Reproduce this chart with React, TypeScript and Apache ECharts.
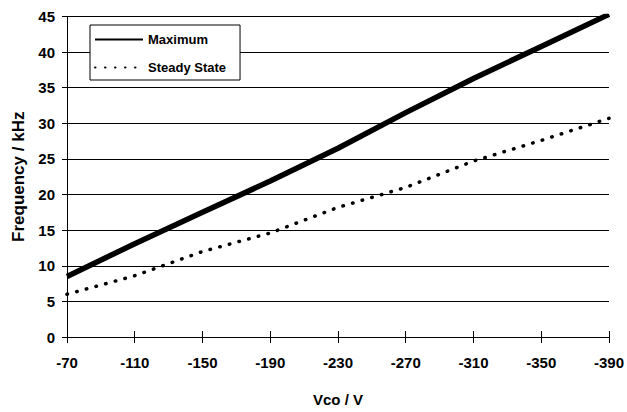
import React, { useEffect, useRef } from "react";
import * as echarts from "echarts";

const voltageLabels = ["-70", "-110", "-150", "-190", "-230", "-270", "-310", "-350", "-390"];
const maximumFreq = [8.5, 13.1, 17.5, 21.9, 26.5, 31.5, 36.3, 40.8, 45.3];
const steadyStateFreq = [6.0, 8.6, 12.0, 14.6, 18.2, 21.0, 24.7, 27.6, 30.7];
const seriesNames = ["Maximum", "Steady State"];

const FONT = 'Arial, "Liberation Sans", sans-serif';

export default function App() {
  const ref = useRef<HTMLDivElement>(null);
  useEffect(() => {
    if (!ref.current) return;
    const chart = echarts.init(ref.current, undefined, { renderer: "svg" });
    chart.setOption({
      animation: false,
      backgroundColor: "#fff",
      grid: { left: 67, right: 15, top: 16.5, bottom: 72, containLabel: false },
      legend: {
        data: seriesNames,
        orient: "vertical",
        left: 90,
        top: 25,
        itemWidth: 48,
        itemHeight: 14,
        itemGap: 15,
        padding: [8, 14, 6, 4],
        borderColor: "#000",
        borderWidth: 1,
        backgroundColor: "#fff",
        itemStyle: { opacity: 0, color: "rgba(0,0,0,0)", borderWidth: 0 },
        textStyle: { fontFamily: FONT, fontSize: 13, fontWeight: "bold", color: "#000" },
      },
      xAxis: [
        {
          type: "category",
          data: voltageLabels,
          boundaryGap: false,
          position: "bottom",
          axisLine: { show: true, lineStyle: { color: "#000", width: 1 } },
          axisTick: { show: true, inside: false, length: 6, interval: 0, lineStyle: { color: "#000" } },
          axisLabel: { margin: 18, interval: 0, fontFamily: FONT, fontSize: 15, fontWeight: "bold", color: "#000" },
          splitLine: { show: false },
          name: "Vco / V",
          nameLocation: "middle",
          nameGap: 55,
          nameTextStyle: { fontFamily: FONT, fontSize: 15, fontWeight: "bold", color: "#000" },
        },
        {
          type: "category",
          data: voltageLabels,
          boundaryGap: false,
          position: "bottom",
          axisLine: { show: false },
          axisTick: { show: true, inside: true, length: 6, interval: 0, lineStyle: { color: "#000" } },
          axisLabel: { show: false },
          splitLine: { show: false },
        },
      ],
      yAxis: {
        type: "value",
        min: 0,
        max: 45,
        interval: 5,
        axisLine: { show: true, lineStyle: { color: "#000", width: 1 } },
        axisTick: { show: true, length: 5, lineStyle: { color: "#000" } },
        axisLabel: { margin: 12, fontFamily: FONT, fontSize: 15, fontWeight: "bold", color: "#000" },
        splitLine: { show: true, lineStyle: { color: "#000", width: 1 } },
        name: "Frequency / kHz",
        nameLocation: "middle",
        nameRotate: 90,
        nameGap: 40,
        nameTextStyle: { fontFamily: FONT, fontSize: 17, fontWeight: "bold", color: "#000" },
      },
      series: [
        {
          name: seriesNames[0],
          type: "line",
          data: maximumFreq,
          symbol: "none",
          color: "#000",
          lineStyle: { color: "#000", width: 5.5 },
        },
        {
          name: seriesNames[1],
          type: "line",
          data: steadyStateFreq,
          symbol: "none",
          color: "#000",
          lineStyle: { color: "#000", width: 3.5, type: [0.5, 9.5], cap: "round" },
        },
      ],
    });
    return () => chart.dispose();
  }, []);
  return <div ref={ref} style={{ position: "fixed", left: 0, top: 0, width: 627, height: 412 }} />;
}
